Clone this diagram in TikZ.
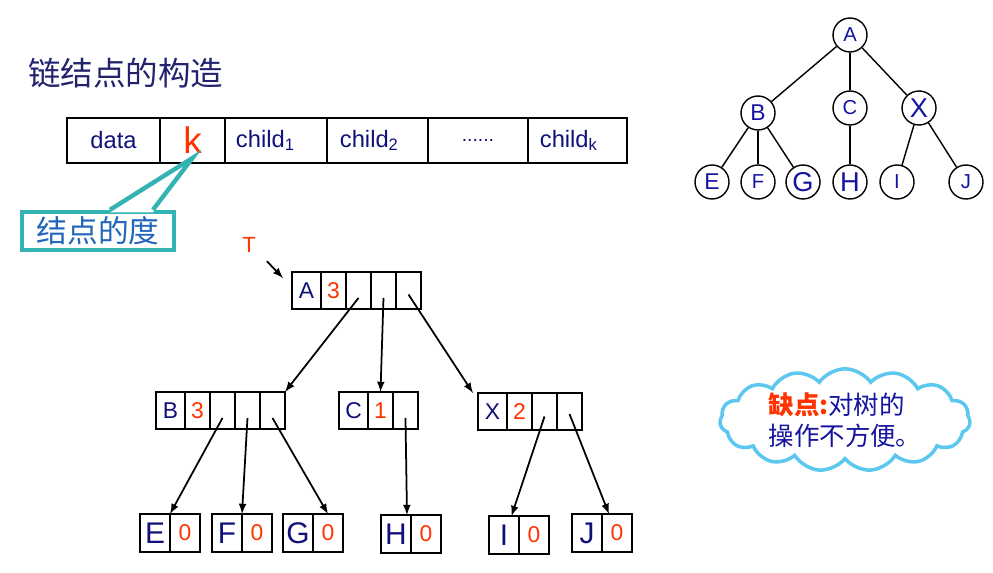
\documentclass[tikz,border=0pt]{standalone}
\usepackage{fontspec}
\setmainfont{Liberation Sans}
\newfontfamily\cjk{Noto Sans CJK SC}
\usetikzlibrary{positioning,shapes.symbols}
\definecolor{inknavy}{HTML}{10107A}
\definecolor{titleblue}{HTML}{22226E}
\definecolor{treeblue}{HTML}{1414A0}
\definecolor{digitred}{HTML}{FF3300}
\definecolor{calloutteal}{HTML}{33B3B3}
\definecolor{callouttext}{HTML}{2266BB}
\definecolor{cloudblue}{HTML}{5CC8F0}

\begin{document}
\begin{tikzpicture}[x=0.02cm,y=-0.02cm,
	field/.style={draw,line width=1pt,inner sep=0pt,outer sep=0pt,minimum height=0.9cm,text=inknavy,font=\fontsize{13.5}{13.5}\selectfont},
	cell/.style={draw,line width=1pt,inner sep=0pt,outer sep=0pt,minimum height=0.74cm,minimum width=0.5cm,text=inknavy,font=\fontsize{13}{13}\selectfont},
	headcell/.style={cell,minimum width=0.58cm},
	degree/.style={text=digitred},
	leafcell/.style={cell,minimum width=0.6cm,minimum height=0.76cm,font=\fontsize{17}{17}\selectfont},
	leafdeg/.style={leafcell,degree,font=\fontsize{13}{13}\selectfont},
	tnode/.style={circle,draw,line width=0.8pt,minimum size=0.68cm,inner sep=0pt,text=treeblue,font=\fontsize{11.5}{11.5}\selectfont},
	midfont/.style={font=\fontsize{13}{13}\selectfont},
	bigfont/.style={font=\fontsize{15.5}{15.5}\selectfont},
	ptr/.style={-latex,line width=1pt}
	]
	\useasboundingbox (0,0) rectangle (993,573);
	
	% title and record layout
	\node[anchor=west,text=titleblue,font=\cjk\fontsize{18.5}{18.5}\selectfont] (title) at (22,73) {链结点的构造};
	\node[field,minimum width=1.86cm,anchor=north west] (data) at (67,118) {data};
	\node[field,minimum width=1.3cm,right=0pt of data,text=digitred,font=\fontsize{21}{21}\selectfont] (k) {k};
	\node[field,minimum width=2.04cm,text width=1.6cm,right=0pt of k] (child1) {child\textsubscript{1}};
	\node[field,minimum width=2.02cm,text width=1.5cm,right=0pt of child1] (child2) {child\textsubscript{2}};
	\node[field,minimum width=2cm,right=0pt of child2,font=\fontsize{11}{11}\selectfont] (dots) {......};
	\node[field,minimum width=1.98cm,text width=1.5cm,right=0pt of dots] (childk) {child\textsubscript{k}};
	\node[draw=calloutteal,line width=2.5pt,fill=white,text=callouttext,font=\cjk\fontsize{17.5}{17.5}\selectfont,
		minimum width=3.04cm,minimum height=0.76cm,inner sep=0pt] (deg) at (98,231) {结点的度};
	\coordinate (degtip) at ([yshift=0.1cm]k.south);
	\coordinate (degl) at ([xshift=0.24cm]deg.north);
	\coordinate (degr) at ([xshift=1.1cm]deg.north);
	\fill[white] ([yshift=-1.4pt]degl) -- (degtip) -- ([yshift=-1.4pt]degr) -- cycle;
	\draw[calloutteal,line width=2.5pt] (degl) -- (degtip) -- (degr);
	
	% tree
	\node[tnode] (tA) at (850,35) {A};
	\node[tnode,midfont] (tB) at (758,113) {B};
	\node[tnode] (tC) at (850,108) {C};
	\node[tnode,bigfont] (tX) at (919,108) {X};
	\node[tnode,midfont] (tE) at (712,182) {E};
	\node[tnode] (tF) at (758,182) {F};
	\node[tnode,bigfont] (tG) at (803,182) {G};
	\node[tnode,bigfont] (tH) at (850,182) {H};
	\node[tnode] (tI) at (897,182) {I};
	\node[tnode] (tJ) at (966,182) {J};
	\draw[line width=0.8pt] (tA) -- (tB);
	\draw[line width=0.8pt] (tA) -- (tC);
	\draw[line width=0.8pt] (tA) -- (tX);
	\draw[line width=0.8pt] (tB) -- (tE);
	\draw[line width=0.8pt] (tB) -- (tF);
	\draw[line width=0.8pt] (tB) -- (tG);
	\draw[line width=0.8pt] (tC) -- (tH);
	\draw[line width=0.8pt] (tX) -- (tI);
	\draw[line width=0.8pt] (tX) -- (tJ);
	
	% linked storage
	\node[text=digitred,font=\fontsize{12.5}{12.5}\selectfont] (T) at (249,245) {T};
	\node[headcell,anchor=north west] (a1) at (292,272) {A};
	\node[cell,degree,right=0pt of a1] (a2) {3};
	\node[cell,right=0pt of a2] (a3) {};
	\node[cell,right=0pt of a3] (a4) {};
	\node[cell,right=0pt of a4] (a5) {};
	\node[headcell,anchor=north west] (b1) at (156,392) {B};
	\node[cell,degree,right=0pt of b1] (b2) {3};
	\node[cell,right=0pt of b2] (b3) {};
	\node[cell,right=0pt of b3] (b4) {};
	\node[cell,right=0pt of b4] (b5) {};
	\node[headcell,anchor=north west] (c1) at (339,392) {C};
	\node[cell,degree,right=0pt of c1] (c2) {1};
	\node[cell,right=0pt of c2] (c3) {};
	\node[headcell,anchor=north west] (x1) at (478,393) {X};
	\node[cell,degree,right=0pt of x1] (x2) {2};
	\node[cell,right=0pt of x2] (x3) {};
	\node[cell,right=0pt of x3] (x4) {};
	\node[leafcell,anchor=north west] (e1) at (140,514) {E};
	\node[leafdeg,right=0pt of e1] (e2) {0};
	\node[leafcell,anchor=north west] (f1) at (212,514) {F};
	\node[leafdeg,right=0pt of f1] (f2) {0};
	\node[leafcell,anchor=north west] (g1) at (283,514) {G};
	\node[leafdeg,right=0pt of g1] (g2) {0};
	\node[leafcell,anchor=north west] (h1) at (381,515) {H};
	\node[leafdeg,right=0pt of h1] (h2) {0};
	\node[leafcell,anchor=north west] (i1) at (489,516) {I};
	\node[leafdeg,right=0pt of i1] (i2) {0};
	\node[leafcell,anchor=north west] (j1) at (572,514) {J};
	\node[leafdeg,right=0pt of j1] (j2) {0};
	\draw[ptr] ([xshift=0.1cm,yshift=-0.05cm]T.south east) -- ([xshift=-0.18cm,yshift=-0.12cm]a1.north west);
	\draw[ptr] ([yshift=-0.15cm]a3.center) -- (b5.north east);
	\draw[ptr] ([yshift=-0.15cm]a4.center) -- (c2.north);
	\draw[ptr] ([yshift=-0.08cm]a5.center) -- ([xshift=-0.1cm]x1.north west);
	\draw[ptr] ([yshift=-0.15cm]b3.center) -- (e1.north east);
	\draw[ptr] ([yshift=-0.15cm]b4.center) -- (f1.north east);
	\draw[ptr] ([yshift=-0.15cm]b5.center) -- (g2.north);
	\draw[ptr] ([yshift=-0.15cm]c3.center) -- ([xshift=-0.08cm]h1.north east);
	\draw[ptr] ([yshift=-0.1cm]x3.center) -- ([xshift=-0.15cm]i1.north east);
	\draw[ptr] ([yshift=-0.05cm]x4.center) -- ([xshift=0.14cm]j2.north west);
	
	% note
	\node[cloud,cloud puffs=15,cloud puff arc=110,aspect=3.2,draw=cloudblue,line width=2pt,fill=white,
		minimum width=4.8cm,minimum height=1.6cm,inner sep=0pt,align=left,text=treeblue,
		font=\cjk\fontsize{14.5}{17.5}\selectfont] (note) at (845,420) {{\color{digitred}\bfseries 缺点:}对树的\\操作不方便。};
\end{tikzpicture}
\end{document}
